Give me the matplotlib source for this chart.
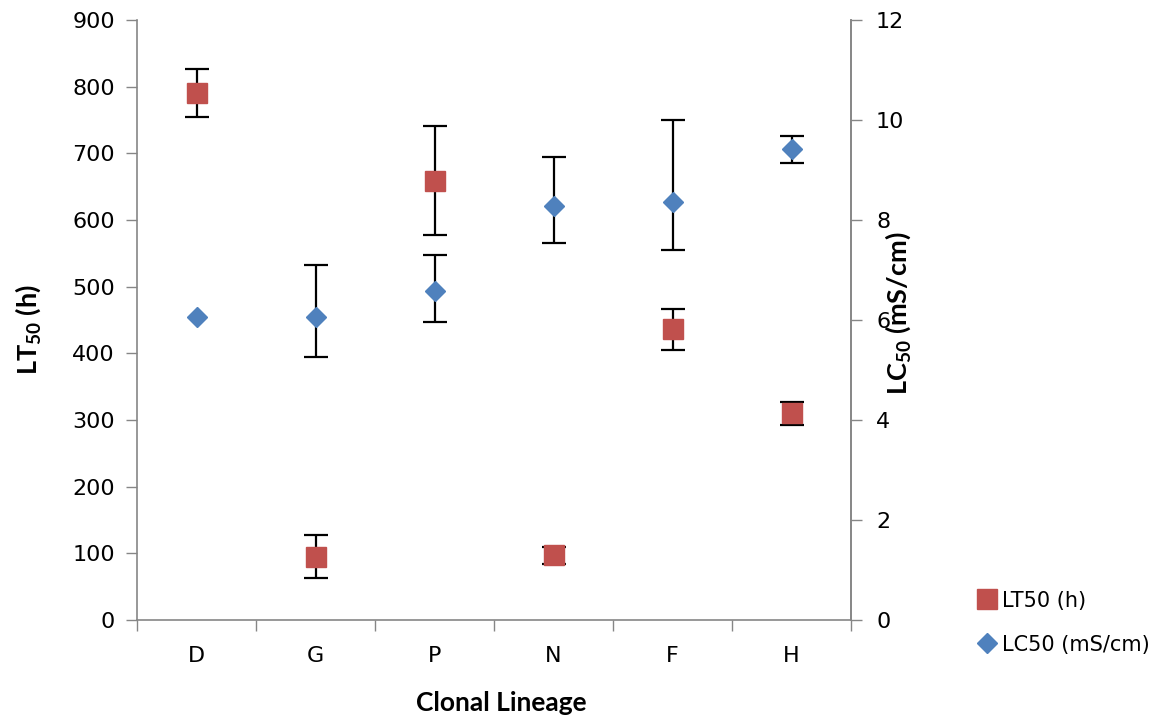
import numpy as np
import matplotlib
import matplotlib.pyplot as plt
from matplotlib.lines import Line2D

matplotlib.use('Agg')

plt.rcParams['mathtext.fontset'] = 'custom'
plt.rcParams['mathtext.bf'] = 'Lato:bold'
plt.rcParams['mathtext.rm'] = 'Lato'

categories = ['D', 'G', 'P', 'N', 'F', 'H']
lt50 = [791, 95, 659, 97, 436, 310]
lt50_err = [36, 32, 82, 13, 31, 17]
lc50 = [6.05, 6.06, 6.57, 8.29, 8.35, 9.41]
lc50_err_low = [0, 0.79, 0.61, 0.74, 0.96, 0.28]
lc50_err_high = [0, 1.05, 0.73, 0.96, 1.64, 0.27]

red = '#C0504D'
blue = '#4F81BD'
gray = '#868686'
tick_font = 'DejaVu Sans'
tick_size = 16

fig = plt.figure(figsize=(11.65, 7.2), dpi=100)
ax = fig.add_axes([137/1165, 100/720, 714/1165, 600/720])
ax2 = ax.twinx()

x = np.arange(len(categories))

# no bar drawn where the error is zero
lc_lo = np.where(np.array(lc50_err_low) == 0, np.nan, lc50_err_low)
lc_hi = np.where(np.array(lc50_err_high) == 0, np.nan, lc50_err_high)

ax.errorbar(x, lt50, yerr=lt50_err, fmt='s', color=red, markersize=14,
            ecolor='black', elinewidth=1.6, capsize=8.5, capthick=1.6,
            markeredgecolor=red, zorder=3)
ax2.errorbar(x, lc50, yerr=[lc_lo, lc_hi], fmt='D', color=blue,
             markersize=10, ecolor='black', elinewidth=1.6, capsize=8.5,
             capthick=1.6, markeredgecolor=blue, zorder=3)

ax.set_xlim(-0.5, len(categories) - 0.5)
ax.set_ylim(0, 900)
ax2.set_ylim(0, 12)
ax.set_yticks(np.arange(0, 901, 100))
ax2.set_yticks(np.arange(0, 13, 2))

# category labels at centres, tick marks at boundaries
ax.set_xticks(x)
ax.set_xticklabels(categories, fontsize=tick_size, family=tick_font)
ax.set_xticks(np.arange(-0.5, len(categories)), minor=True)
ax.tick_params(axis='x', which='major', length=0, pad=19)
ax.tick_params(axis='x', which='minor', length=8, color=gray, width=1)

ax.tick_params(axis='y', length=8, color=gray, width=1, pad=8)
ax2.tick_params(axis='y', length=8, color=gray, width=1, pad=10)
for lab in ax.get_yticklabels() + ax2.get_yticklabels():
    lab.set_fontsize(tick_size)
    lab.set_family(tick_font)

for a in (ax, ax2):
    a.spines['top'].set_visible(False)
    for s in ('left', 'right', 'bottom'):
        a.spines[s].set_color(gray)
        a.spines[s].set_linewidth(1.2)
ax2.spines['left'].set_visible(False)
ax2.spines['bottom'].set_visible(False)

ax.set_xlabel('Clonal Lineage', fontsize=19, fontweight='bold', family='Lato')
ax.xaxis.set_label_coords(0.51, -0.119)
ax.set_ylabel(r'LT$_{\mathbf{50}}$ (h)', fontsize=19.5, fontweight='bold', family='Lato')
ax.yaxis.set_label_coords(-0.132, 0.485)
ax2.set_ylabel(r'LC$_{\mathbf{50}}$ (mS/cm)', fontsize=19.5, fontweight='bold',
               family='Lato', rotation=90)
ax2.yaxis.set_label_coords(1.045, 0.512)

handles = [
    Line2D([], [], marker='s', color=red, linestyle='none', markersize=14),
    Line2D([], [], marker='D', color=blue, linestyle='none', markersize=10),
]
fig.legend(handles, ['LT50 (h)', 'LC50 (mS/cm)'], loc='upper left',
           bbox_to_anchor=(952/1165, 1 - 572/720), frameon=False,
           prop={'family': tick_font, 'size': 15}, labelspacing=1.15,
           handletextpad=-0.1, handlelength=1.6)

plt.savefig('out.png', dpi=100)
plt.close()
